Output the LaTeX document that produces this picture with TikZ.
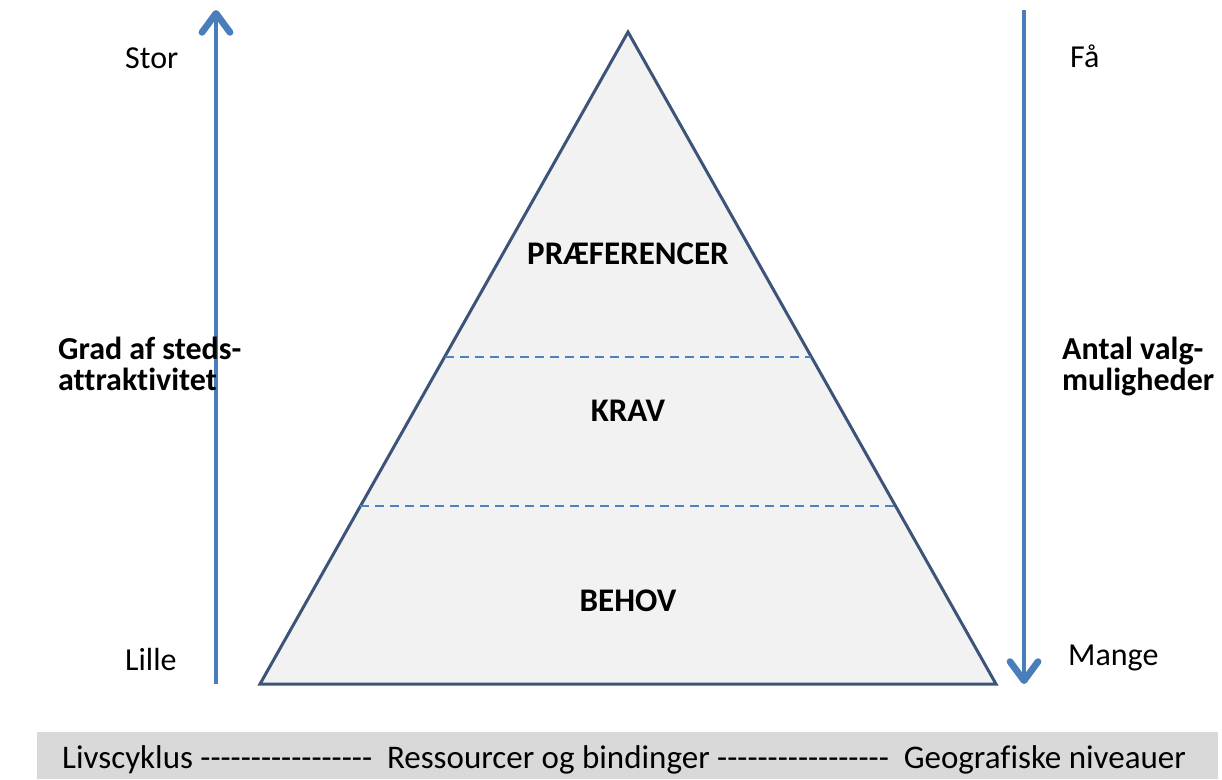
\documentclass[tikz,border=0pt]{standalone}
\usepackage{fontspec}
\setmainfont{Carlito}[Ligatures={TeXOff,CommonOff}]
\usetikzlibrary{calc, arrows.meta}

\definecolor{arrowblue}{RGB}{74,126,187}
\definecolor{edgeblue}{RGB}{59,84,120}
\definecolor{dashblue}{RGB}{79,129,189}
\definecolor{pyrfill}{RGB}{242,242,242}
\definecolor{barfill}{RGB}{217,217,217}

\begin{document}
\begin{tikzpicture}
      [
        x=1pt, y=-1pt,
        label/.style={anchor=base west, inner sep=0pt, font=\fontsize{32}{32}\selectfont},
        boldlabel/.style={label, font=\fontsize{32}{31}\selectfont\bfseries, align=left},
        level/.style={anchor=base, inner sep=0pt, font=\fontsize{33}{33}\selectfont\bfseries},
        axis/.style={arrowblue, line width=4.5pt, -{Straight Barb[length=19pt, width=28pt, line width=0pt 1.5, round]}},
        divider/.style={dashblue, line width=1.6pt, dash pattern=on 9pt off 6pt}
      ]
      \useasboundingbox (0,0) rectangle (1222,779);
      % pyramid
      \coordinate (apex) at (628,32);
      \coordinate (bl) at (260,684);
      \coordinate (br) at (996,684);
      \draw[edgeblue, line width=3pt, fill=pyrfill, line join=miter] (apex) -- (bl) -- (br) -- cycle;
      \foreach \t in {0.4985,0.727} {
          \draw [divider] ($(apex)!\t!(bl)$) -- ($(apex)!\t!(br)$);
      }
      % levels
      \node [level] (pref) at (628,264) {PRÆFERENCER};
      \node [level] (krav) at (628,421) {KRAV};
      \node [level] (behov) at (628,611) {BEHOV};
      % axes
      \coordinate (lbot) at (216,684);
      \coordinate (ltop) at (216,10);
      \coordinate (rtop) at (1024,10);
      \coordinate (rbot) at (1024,684);
      \draw [axis] (lbot) -- (ltop);
      \draw [axis] (rtop) -- (rbot);
      % labels
      \node [label] (stor) at (125,68) {Stor};
      \node [label] (lille) at (125,670) {Lille};
      \node [label] (faa) at (1070,67) {Få};
      \node [label] (mange) at (1068,665) {Mange};
      \node [boldlabel] (grad) at (58,390) {Grad af steds-\\attraktivitet};
      \node [boldlabel] (antal) at (1062,390) {Antal valg-\\muligheder};
      % bottom bar
      \fill [barfill] (37,732) rectangle (1218,779);
      \node [label, font=\fontsize{33}{33}\selectfont] (bar) at (62,768) {Livscyklus ----------------- \ Ressourcer og bindinger ----------------- \ Geografiske niveauer};
    \end{tikzpicture}
\end{document}
